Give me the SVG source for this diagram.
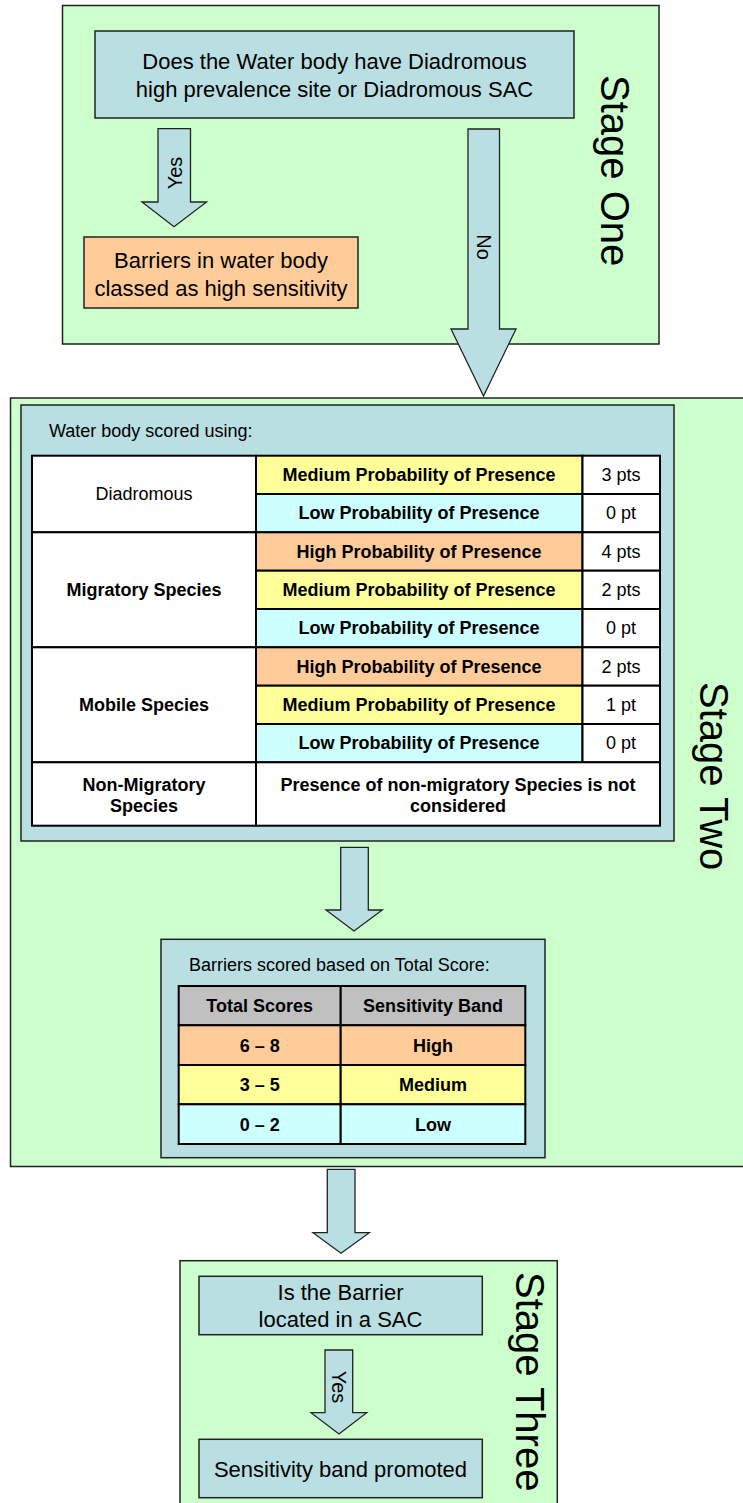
<svg xmlns="http://www.w3.org/2000/svg" width="743" height="1503" viewBox="0 0 743 1503">
<style>
.stage{fill:#CCFFCC;stroke:#222;stroke-width:1.5}
.teal{fill:#B9DFE2;stroke:#222;stroke-width:1.5}
.orange{fill:#FFCC99}
.yellow{fill:#FFFF99}
.cyan{fill:#CCFFFF}
.white{fill:#FFFFFF}
.gray{fill:#C0C0C0}
.cell{stroke:#000;stroke-width:2}
.arrow{fill:#B9DFE2;stroke:#222;stroke-width:1.3;stroke-linejoin:miter}
text{font-family:"Liberation Sans",Arial,Helvetica,sans-serif;fill:#000}
.t22{font-size:22px}
.t18{font-size:18px}
.b18{font-size:18px;font-weight:bold}
.big{font-size:40px}
.t20{font-size:20px}
.mid{text-anchor:middle}
</style>

<!-- Stage One -->
<g id="stage-one">
<rect class="stage" x="62.5" y="5.5" width="596.5" height="338.5"/>
<text class="big" transform="translate(601,75) rotate(90)">Stage One</text>
</g>
<g id="q-diadromous">
<rect class="teal" x="95" y="31" width="479" height="87"/>
<text class="t22 mid" x="334.5" y="69">Does the Water body have Diadromous</text>
<text class="t22 mid" x="334.5" y="97">high prevalence site or Diadromous SAC</text>
</g>
<g id="high-sensitivity">
<rect class="stage" style="fill:#FFCC99" x="84" y="237" width="274" height="71"/>
<text class="t22 mid" x="221" y="268">Barriers in water body</text>
<text class="t22 mid" x="221" y="296">classed as high sensitivity</text>
</g>

<!-- Stage Two -->
<g id="stage-two">
<rect class="stage" x="10.5" y="398" width="760" height="768.5"/>
<text class="big" transform="translate(700,682) rotate(90)">Stage Two</text>
</g>
<g id="water-body-scoring">
<rect class="teal" x="21" y="405" width="653" height="436"/>
<text class="t18" x="49" y="437">Water body scored using:</text>
<g class="cell">
<rect class="white" x="32" y="455.7" width="224" height="76.6"/>
<rect class="yellow" x="256" y="455.7" width="326.5" height="38.3"/>
<rect class="white" x="582.5" y="455.7" width="77.5" height="38.3"/>
<rect class="cyan" x="256" y="494" width="326.5" height="38.3"/>
<rect class="white" x="582.5" y="494" width="77.5" height="38.3"/>

<rect class="white" x="32" y="532.3" width="224" height="115"/>
<rect class="orange" x="256" y="532.3" width="326.5" height="38.4"/>
<rect class="white" x="582.5" y="532.3" width="77.5" height="38.4"/>
<rect class="yellow" x="256" y="570.7" width="326.5" height="38.3"/>
<rect class="white" x="582.5" y="570.7" width="77.5" height="38.3"/>
<rect class="cyan" x="256" y="609" width="326.5" height="38.3"/>
<rect class="white" x="582.5" y="609" width="77.5" height="38.3"/>

<rect class="white" x="32" y="647.3" width="224" height="115"/>
<rect class="orange" x="256" y="647.3" width="326.5" height="38.4"/>
<rect class="white" x="582.5" y="647.3" width="77.5" height="38.4"/>
<rect class="yellow" x="256" y="685.7" width="326.5" height="38.3"/>
<rect class="white" x="582.5" y="685.7" width="77.5" height="38.3"/>
<rect class="cyan" x="256" y="724" width="326.5" height="38.3"/>
<rect class="white" x="582.5" y="724" width="77.5" height="38.3"/>

<rect class="white" x="32" y="762.3" width="224" height="63.4"/>
<rect class="white" x="256" y="762.3" width="404" height="63.4"/>
</g>
<text class="t18 mid" x="144" y="500">Diadromous</text>
<text class="b18 mid" x="419" y="481">Medium Probability of Presence</text>
<text class="t18 mid" x="621" y="481">3 pts</text>
<text class="b18 mid" x="419" y="519">Low Probability of Presence</text>
<text class="t18 mid" x="621" y="519">0 pt</text>

<text class="b18 mid" x="144" y="596">Migratory Species</text>
<text class="b18 mid" x="419" y="557.5">High Probability of Presence</text>
<text class="t18 mid" x="621" y="557.5">4 pts</text>
<text class="b18 mid" x="419" y="596">Medium Probability of Presence</text>
<text class="t18 mid" x="621" y="596">2 pts</text>
<text class="b18 mid" x="419" y="634">Low Probability of Presence</text>
<text class="t18 mid" x="621" y="634">0 pt</text>

<text class="b18 mid" x="144" y="711">Mobile Species</text>
<text class="b18 mid" x="419" y="672.5">High Probability of Presence</text>
<text class="t18 mid" x="621" y="672.5">2 pts</text>
<text class="b18 mid" x="419" y="711">Medium Probability of Presence</text>
<text class="t18 mid" x="621" y="711">1 pt</text>
<text class="b18 mid" x="419" y="749">Low Probability of Presence</text>
<text class="t18 mid" x="621" y="749">0 pt</text>

<text class="b18 mid" x="144" y="790.5">Non-Migratory</text>
<text class="b18 mid" x="144" y="811.5">Species</text>
<text class="b18 mid" x="458" y="790.5">Presence of non-migratory Species is not</text>
<text class="b18 mid" x="458" y="811.5">considered</text>
</g>

<g id="barrier-scoring">
<rect class="teal" x="161" y="939.3" width="384" height="218.4"/>
<text class="t18" x="189" y="971">Barriers scored based on Total Score:</text>
<g class="cell">
<rect class="gray" x="178.7" y="986" width="162" height="39.3"/>
<rect class="gray" x="340.7" y="986" width="184.6" height="39.3"/>
<rect class="orange" x="178.7" y="1025.3" width="162" height="39.7"/>
<rect class="orange" x="340.7" y="1025.3" width="184.6" height="39.7"/>
<rect class="yellow" x="178.7" y="1065" width="162" height="39.3"/>
<rect class="yellow" x="340.7" y="1065" width="184.6" height="39.3"/>
<rect class="cyan" x="178.7" y="1104.3" width="162" height="39.7"/>
<rect class="cyan" x="340.7" y="1104.3" width="184.6" height="39.7"/>
</g>
<text class="b18 mid" x="259.7" y="1012">Total Scores</text>
<text class="b18 mid" x="433" y="1012">Sensitivity Band</text>
<text class="b18 mid" x="259.7" y="1051.5">6 – 8</text>
<text class="b18 mid" x="433" y="1051.5">High</text>
<text class="b18 mid" x="259.7" y="1091">3 – 5</text>
<text class="b18 mid" x="433" y="1091">Medium</text>
<text class="b18 mid" x="259.7" y="1130.5">0 – 2</text>
<text class="b18 mid" x="433" y="1130.5">Low</text>
</g>

<!-- Stage Three -->
<g id="stage-three">
<rect class="stage" x="180" y="1260.7" width="377.3" height="260"/>
<text class="big" transform="translate(516,1272) rotate(90)">Stage Three</text>
</g>
<g id="q-sac">
<rect class="teal" x="199" y="1276.3" width="283.3" height="58.4"/>
<text class="t22 mid" x="340.5" y="1300">Is the Barrier</text>
<text class="t22 mid" x="340.5" y="1326.5">located in a SAC</text>
</g>
<g id="band-promoted">
<rect class="teal" x="199" y="1439.3" width="283.3" height="58.4"/>
<text class="t22 mid" x="340.5" y="1476.5">Sensitivity band promoted</text>
</g>

<!-- Connectors -->
<g id="connectors">
<g id="arrow-yes-1">
<polygon class="arrow" points="158,128.7 190.5,128.7 190.5,202 206.6,202 174,226.7 142,202 158,202"/>
<text class="t20 mid" transform="translate(182,173) rotate(-90)">Yes</text>
</g>
<g id="arrow-no">
<polygon class="arrow" points="468,129 499.5,129 499.5,329 516,329 483.5,396 451,329 468,329"/>
<text class="t20 mid" transform="translate(477,247) rotate(90)">No</text>
</g>
<polygon id="arrow-to-barrier-scoring" class="arrow" points="340.7,847.3 368.3,847.3 368.3,910 382.3,910 354,931 326,910 340.7,910"/>
<polygon id="arrow-to-stage-three" class="arrow" points="327.3,1169.3 355,1169.3 355,1232.7 369.3,1232.7 341,1253.3 313,1232.7 327.3,1232.7"/>
<g id="arrow-yes-3">
<polygon class="arrow" points="325,1350 352.7,1350 352.7,1412.7 366.7,1412.7 339,1434 311,1412.7 325,1412.7"/>
<text class="t20 mid" transform="translate(332,1387) rotate(90)">Yes</text>
</g>
</g>
</svg>
